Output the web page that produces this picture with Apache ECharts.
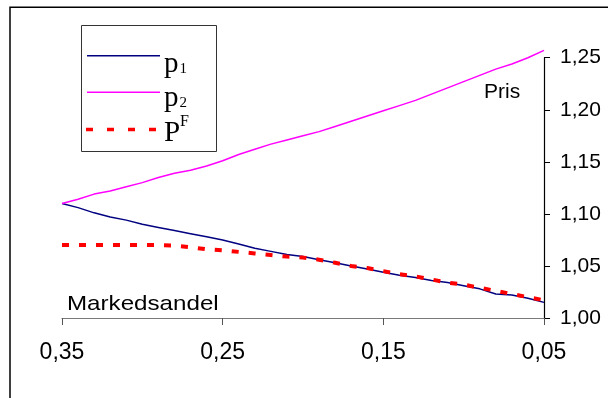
<!DOCTYPE html>
<html>
<head>
<meta charset="utf-8">
<script src="https://cdn.jsdelivr.net/npm/echarts@6/dist/echarts.min.js"></script>
<style>
  html, body { margin: 0; padding: 0; background: #fff; }
  #chart { width: 608px; height: 398px; }
</style>
</head>
<body>
<div id="chart"></div>
<script>
// Markedsandel (market share), read right-to-left on the x axis
const shares = [0.35, 0.34, 0.33, 0.32, 0.31, 0.30, 0.29, 0.28, 0.27, 0.26,
                0.25, 0.24, 0.23, 0.22, 0.21, 0.20, 0.19, 0.18, 0.17, 0.16,
                0.15, 0.14, 0.13, 0.12, 0.11, 0.10, 0.09, 0.08, 0.07, 0.06, 0.05];

// Price of firm 1
const p1 = [1.110, 1.106, 1.101, 1.097, 1.094, 1.090, 1.087, 1.084, 1.081, 1.078,
            1.075, 1.071, 1.067, 1.064, 1.061, 1.059, 1.056, 1.053, 1.050, 1.047,
            1.044, 1.041, 1.039, 1.036, 1.034, 1.031, 1.028, 1.023, 1.022, 1.019, 1.015];

// Price of firm 2
const p2 = [1.110, 1.114, 1.119, 1.122, 1.126, 1.130, 1.135, 1.139, 1.142, 1.146,
            1.151, 1.157, 1.162, 1.167, 1.171, 1.175, 1.179, 1.184, 1.189, 1.194,
            1.199, 1.204, 1.209, 1.215, 1.221, 1.227, 1.233, 1.239, 1.244, 1.250, 1.257];

// P^F
const pF = [1.070, 1.070, 1.070, 1.070, 1.070, 1.070, 1.070, 1.0695, 1.068, 1.066,
            1.065, 1.0635, 1.062, 1.0605, 1.059, 1.058, 1.056, 1.053, 1.050, 1.048,
            1.045, 1.042, 1.040, 1.037, 1.034, 1.032, 1.029, 1.026, 1.023, 1.020, 1.017];

const xTicks = { min: 0.05, max: 0.35, step: 0.1 };
const yTicks = { min: 1.00, max: 1.25, step: 0.05 };

const comma = (v) => v.toFixed(2).replace('.', ',');
const pairs = (ys) => shares.map((s, i) => [s, ys[i]]);

const SANS = '"Liberation Sans", Arial, sans-serif';
const SERIF = '"Liberation Serif", "Times New Roman", serif';

const chart = echarts.init(document.getElementById('chart'), null, { renderer: 'canvas' });

chart.setOption({
  animation: false,
  backgroundColor: '#fff',
  grid: { left: 62, right: 64, top: 57.7, bottom: 80 },
  xAxis: {
    type: 'value',
    inverse: true,
    min: xTicks.min,
    max: xTicks.max,
    interval: xTicks.step,
    splitLine: { show: false },
    axisLine: { show: true, lineStyle: { color: '#7a7a7a', width: 1.2 } },
    axisTick: { show: true, inside: false, length: 7, lineStyle: { color: '#555', width: 1 } },
    axisLabel: {
      margin: 23,
      lineHeight: 23,
      fontFamily: SANS,
      fontSize: 23,
      color: '#000',
      formatter: (v) => comma(v)
    }
  },
  yAxis: {
    type: 'value',
    position: 'right',
    min: yTicks.min,
    max: yTicks.max,
    interval: yTicks.step,
    splitLine: { show: false },
    axisLine: { show: true, lineStyle: { color: '#000', width: 1.2 } },
    axisTick: { show: true, inside: false, length: 6, lineStyle: { color: '#000', width: 1 } },
    axisLabel: {
      margin: 16,
      lineHeight: 21,
      padding: [0, 0, 3, 0],
      fontFamily: SANS,
      fontSize: 21,
      color: '#000',
      formatter: (v) => comma(v)
    }
  },
  series: [
    {
      name: 'p1',
      type: 'line',
      data: pairs(p1),
      clip: false,
      showSymbol: false,
      symbol: 'none',
      lineStyle: { color: '#000080', width: 1.5 }
    },
    {
      name: 'p2',
      type: 'line',
      data: pairs(p2),
      clip: false,
      showSymbol: false,
      symbol: 'none',
      lineStyle: { color: '#ff00ff', width: 1.5 }
    },
    {
      name: 'PF',
      type: 'line',
      data: pairs(pF),
      clip: false,
      showSymbol: false,
      symbol: 'none',
      lineStyle: { color: '#ff0000', width: 4, type: [7, 10], cap: 'butt' }
    }
  ],
  graphic: [
    // chart frame
    {
      type: 'rect',
      silent: true,
      shape: { x: 10, y: 7.2, width: 800, height: 600 },
      style: { fill: 'none', stroke: '#000', lineWidth: 1.5 }
    },
    // legend box
    {
      type: 'rect',
      silent: true,
      shape: { x: 81.5, y: 25.5, width: 135, height: 126 },
      style: { fill: '#fff', stroke: '#333', lineWidth: 1 }
    },
    { type: 'line', silent: true, shape: { x1: 87, y1: 55.7, x2: 160, y2: 55.7 },
      style: { stroke: '#000080', lineWidth: 1.5 } },
    { type: 'line', silent: true, shape: { x1: 87, y1: 92.3, x2: 160, y2: 92.3 },
      style: { stroke: '#ff00ff', lineWidth: 1.5 } },
    { type: 'line', silent: true, shape: { x1: 86, y1: 129.5, x2: 160, y2: 129.5 },
      style: { stroke: '#ff0000', lineWidth: 3.5, lineDash: [7, 14], lineCap: 'butt' } },
    { type: 'text', silent: true,
      style: { text: 'p', x: 164, y: 64.5, font: '29px ' + SERIF, fill: '#000', verticalAlign: 'middle' } },
    { type: 'text', silent: true,
      style: { text: '1', x: 179.5, y: 68.7, font: '15px ' + SERIF, fill: '#000', verticalAlign: 'middle' } },
    { type: 'text', silent: true,
      style: { text: 'p', x: 164, y: 98.8, font: '29px ' + SERIF, fill: '#000', verticalAlign: 'middle' } },
    { type: 'text', silent: true,
      style: { text: '2', x: 179.5, y: 103.4, font: '15px ' + SERIF, fill: '#000', verticalAlign: 'middle' } },
    { type: 'text', silent: true,
      style: { text: 'P', x: 164, y: 133, font: '29px ' + SERIF, fill: '#000', verticalAlign: 'middle' } },
    { type: 'text', silent: true,
      style: { text: 'F', x: 180, y: 122.1, font: '16px ' + SERIF, fill: '#000', verticalAlign: 'middle' } },
    // axis captions
    { type: 'text', silent: true, x: 484, y: 92.7,
      style: { text: 'Pris', x: 0, y: 0, font: '21px ' + SANS, fill: '#000', verticalAlign: 'middle' } },
    { type: 'text', silent: true, x: 67, y: 304.4, scaleX: 1.15,
      style: { text: 'Markedsandel', x: 0, y: 0, font: '21px ' + SANS, fill: '#000', verticalAlign: 'middle' } }
  ]
});
</script>
</body>
</html>
